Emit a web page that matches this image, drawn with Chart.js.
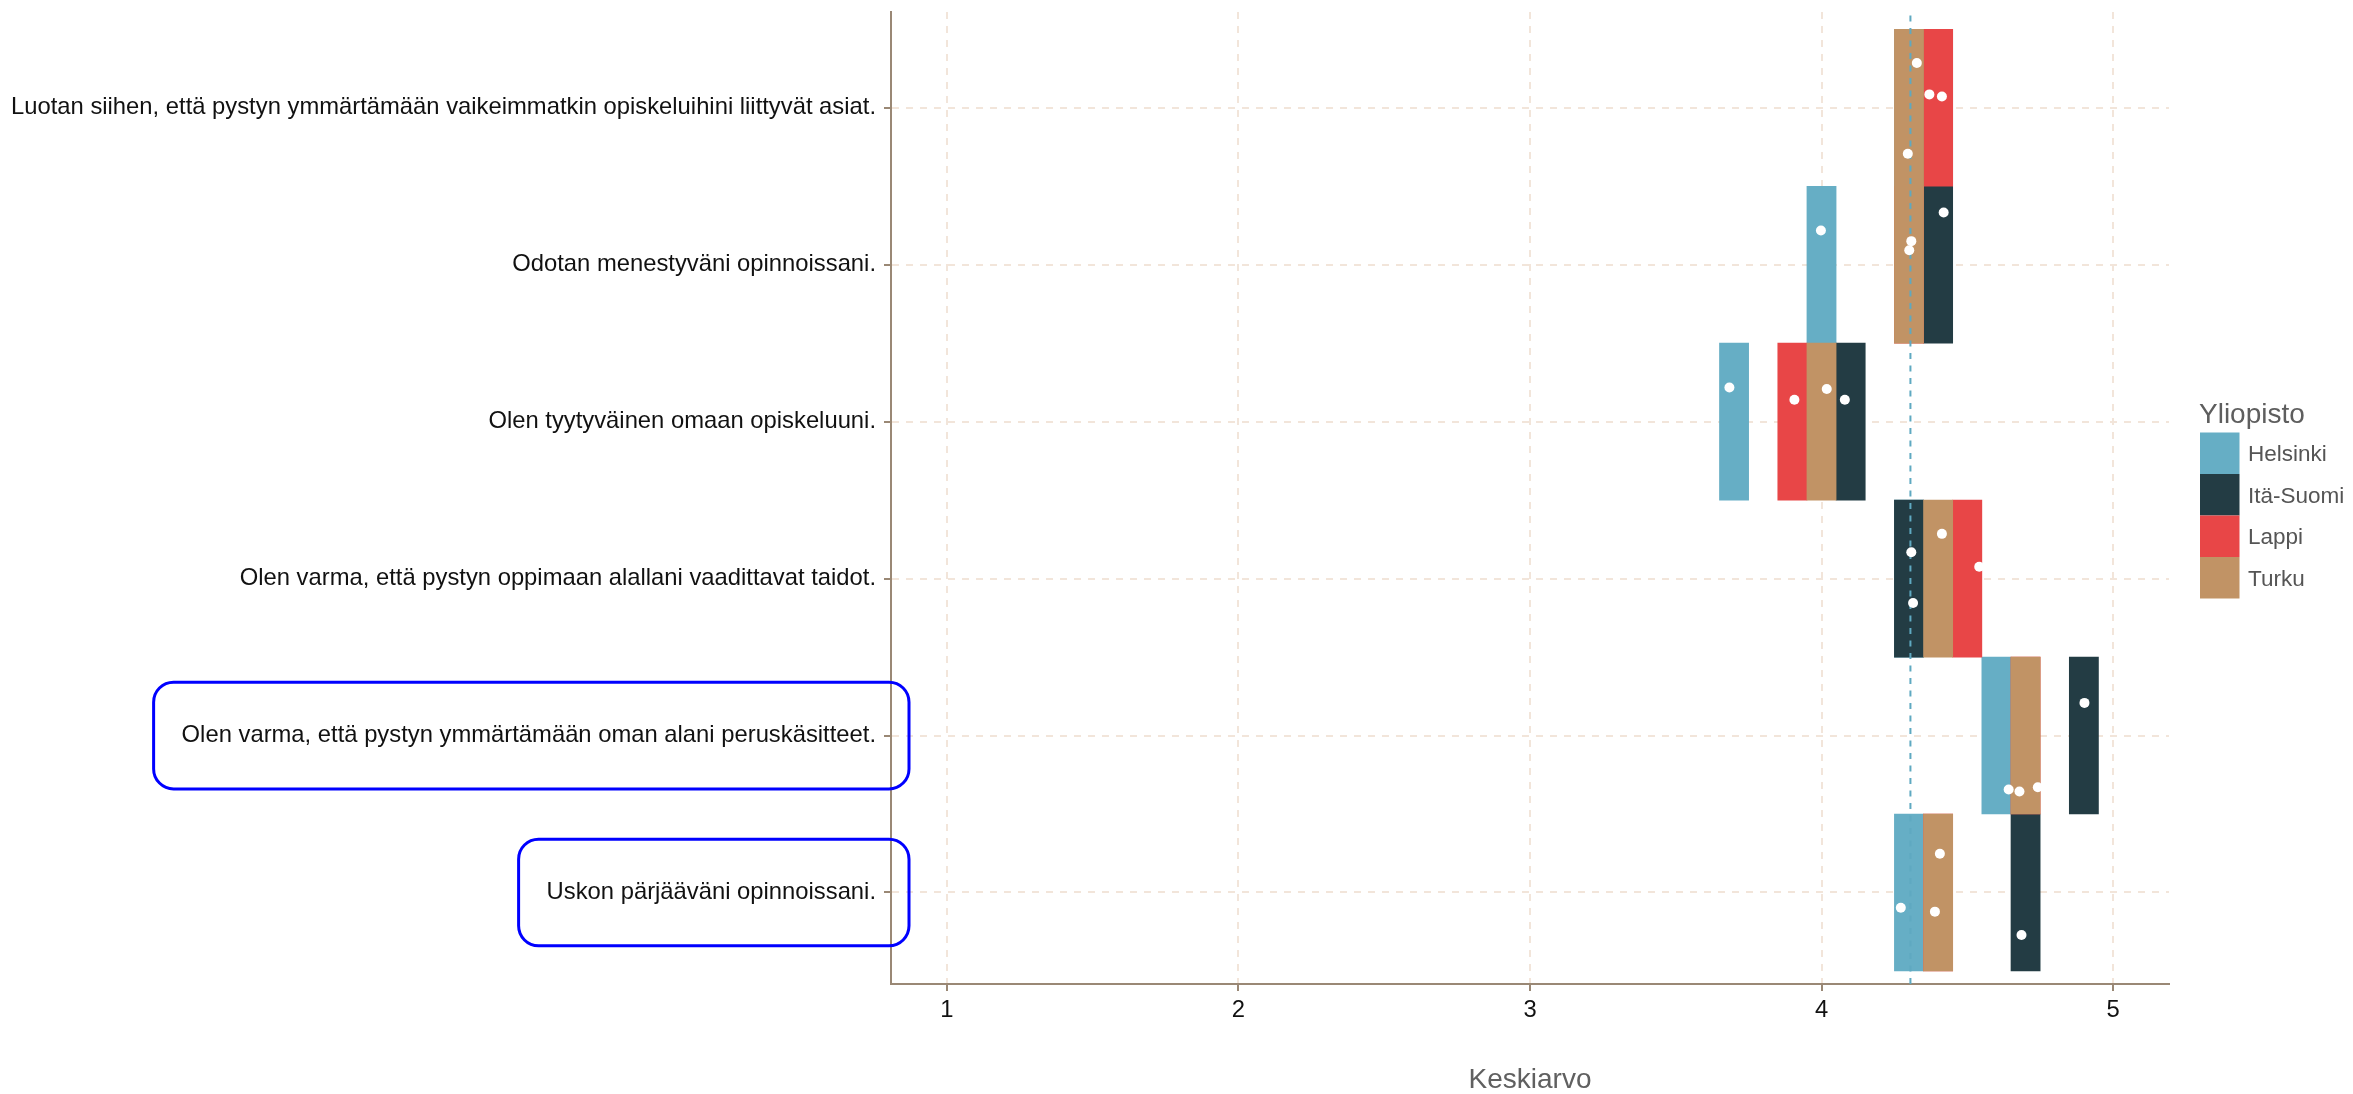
<!DOCTYPE html>
<html>
<head>
<meta charset="utf-8">
<script src="https://cdn.jsdelivr.net/npm/chart.js@4/dist/chart.umd.min.js"></script>
<style>
html,body{margin:0;padding:0;background:#ffffff;overflow:hidden}
canvas{display:block}
</style>
</head>
<body>
<canvas id="c" width="2353" height="1094"></canvas>
<script>
// ---------- data ----------
const categories = [
  "Luotan siihen, että pystyn ymmärtämään vaikeimmatkin opiskeluihini liittyvät asiat.",
  "Odotan menestyväni opinnoissani.",
  "Olen tyytyväinen omaan opiskeluuni.",
  "Olen varma, että pystyn oppimaan alallani vaadittavat taidot.",
  "Olen varma, että pystyn ymmärtämään oman alani peruskäsitteet.",
  "Uskon pärjääväni opinnoissani."
];
const universities = ["Helsinki", "Itä-Suomi", "Lappi", "Turku"];
const legendTitle = "Yliopisto";
const xTitle = "Keskiarvo";

// tile centres (rounded means), same order as categories
const tileHelsinki = [4.3, 4.0, 3.7, 4.3, 4.6, 4.3];
const tileItaSuomi = [4.4, 4.4, 4.1, 4.3, 4.9, 4.7];
const tileLappi    = [4.4, 4.3, 3.9, 4.5, 4.7, 4.4];
const tileTurku    = [4.3, 4.3, 4.0, 4.4, 4.7, 4.4];

// means (white points)
const meanHelsinki = [4.296, 3.998, 3.684, 4.314, 4.642, 4.272];
const meanItaSuomi = [4.370, 4.419, 4.080, 4.308, 4.902, 4.686];
const meanLappi    = [4.413, 4.301, 3.907, 4.541, 4.742, 4.389];
const meanTurku    = [4.327, 4.308, 4.018, 4.413, 4.679, 4.406];

// vertical jitter of the points (in category units)
const jitHelsinki = [-0.293, 0.218, 0.218, -0.155, -0.344, -0.097];
const jitItaSuomi = [0.085, 0.332, 0.140, 0.168, 0.208, -0.271];
const jitLappi    = [0.072, 0.092, 0.140, 0.076, -0.329, -0.122];
const jitTurku    = [0.285, 0.150, 0.208, 0.285, -0.357, 0.247];

const overallMean = 4.305;
const xTicks = [1, 2, 3, 4, 5];
const highlighted = [
  "Olen varma, että pystyn ymmärtämään oman alani peruskäsitteet.",
  "Uskon pärjääväni opinnoissani."
];

// ---------- styles ----------
const colors = ["#66aec5", "#233c44", "#e84647", "#c19365"];
const FONT = '"Liberation Sans", Arial, Helvetica, sans-serif';
const tileHalf = 0.05;
const X_MIN = 0.808, X_MAX = 5.192;
const Y_MIN = 0.417, Y_MAX = 6.61;
const AXIS_COLOR = "#9a8875";
const GRID_COLOR = "#f2e5da";
const TICK_LEN = 7, Y_TICK_PAD = 8;
const LABEL_SIZE = 23.8;

const tiles = [tileHelsinki, tileItaSuomi, tileLappi, tileTurku];
const means = [meanHelsinki, meanItaSuomi, meanLappi, meanTurku];
const jits = [jitHelsinki, jitItaSuomi, jitLappi, jitTurku];
const pos = i => categories.length - i;

const datasets = universities.map((u, k) => ({
  type: "bar",
  label: u,
  data: categories.map((c, i) => ({ y: pos(i), x: [tiles[k][i] - tileHalf, tiles[k][i] + tileHalf] })),
  backgroundColor: colors[k],
  borderWidth: 0,
  grouped: false,
  barPercentage: 1,
  categoryPercentage: 1,
  order: 10 - k
}));

datasets.push({
  type: "scatter",
  label: "mean",
  data: [{ x: overallMean, y: Y_MIN }, { x: overallMean, y: Y_MAX }],
  showLine: true,
  borderColor: "#5fa9c1",
  borderWidth: 2,
  borderDash: [6, 6.5],
  pointRadius: 0,
  order: 2
});

const pts = [];
universities.forEach((u, k) => {
  categories.forEach((c, i) => pts.push({ x: means[k][i], y: pos(i) + jits[k][i] }));
});
datasets.push({
  type: "scatter",
  label: "points",
  data: pts,
  showLine: false,
  pointRadius: 5,
  pointBorderWidth: 0,
  pointBackgroundColor: "#ffffff",
  order: 1
});

// ---------- plugins ----------
function roundRectPath(ctx, x, y, w, h, r) {
  ctx.beginPath();
  ctx.moveTo(x + r, y);
  ctx.lineTo(x + w - r, y);
  ctx.arcTo(x + w, y, x + w, y + r, r);
  ctx.lineTo(x + w, y + h - r);
  ctx.arcTo(x + w, y + h, x + w - r, y + h, r);
  ctx.lineTo(x + r, y + h);
  ctx.arcTo(x, y + h, x, y + h - r, r);
  ctx.lineTo(x, y + r);
  ctx.arcTo(x, y, x + r, y, r);
  ctx.closePath();
}

const highlightBoxes = {
  id: "highlightBoxes",
  afterDraw(chart) {
    const ys = chart.scales.y;
    const { ctx, chartArea } = chart;
    ctx.save();
    ctx.font = LABEL_SIZE + "px " + FONT;
    highlighted.forEach(label => {
      const i = categories.indexOf(label);
      if (i < 0) return;
      const v = pos(i);
      const cy = ys.getPixelForValue(v);
      const half = Math.abs(ys.getPixelForValue(v + 0.34) - cy);
      const textRight = ys.right - TICK_LEN - Y_TICK_PAD;
      const w = ctx.measureText(label).width;
      const left = textRight - w - 28;
      const right = chartArea.left + 18;
      roundRectPath(ctx, left, cy - half, right - left, 2 * half, 20);
      ctx.lineWidth = 3;
      ctx.strokeStyle = "#0000ff";
      ctx.stroke();
    });
    ctx.restore();
  }
};

const ggLegend = {
  id: "ggLegend",
  afterDraw(chart) {
    const { ctx, chartArea } = chart;
    const keyH = 41.5, keyW = 39.5, titleH = 35;
    const blockH = titleH + universities.length * keyH;
    const top = (chartArea.top + chartArea.bottom) / 2 - blockH / 2;
    const x0 = chartArea.right + 31;
    ctx.save();
    ctx.font = "28px " + FONT;
    ctx.fillStyle = "#5e5e5e";
    ctx.textBaseline = "alphabetic";
    ctx.textAlign = "left";
    ctx.fillText(legendTitle, x0 - 1, top + 25.5);
    universities.forEach((u, i) => {
      const y = top + titleH + i * keyH;
      ctx.fillStyle = colors[i];
      ctx.fillRect(x0, y, keyW, keyH);
      ctx.fillStyle = "#555555";
      ctx.font = "22.5px " + FONT;
      ctx.textBaseline = "middle";
      ctx.fillText(u, x0 + keyW + 8.5, y + keyH / 2 + 2);
    });
    ctx.restore();
  }
};

Chart.defaults.font.family = FONT;

new Chart(document.getElementById("c"), {
  type: "bar",
  data: { datasets },
  options: {
    indexAxis: "y",
    responsive: false,
    devicePixelRatio: 1,
    animation: false,
    events: [],
    layout: { padding: { left: 0, top: 12, right: 184, bottom: 0 } },
    plugins: { legend: { display: false }, tooltip: { enabled: false } },
    scales: {
      x: {
        type: "linear",
        min: X_MIN,
        max: X_MAX,
        beginAtZero: false,
        offset: false,
        afterFit: s => { s.height = 110; s.paddingLeft = 0; s.paddingRight = 0; },
        afterBuildTicks: s => { s.ticks = xTicks.map(v => ({ value: v })); },
        ticks: { stepSize: 1, includeBounds: false, color: "#111111", font: { size: LABEL_SIZE }, padding: 5, maxRotation: 0 },
        grid: { color: GRID_COLOR, lineWidth: 2, tickColor: AXIS_COLOR, tickLength: TICK_LEN, tickWidth: 2, tickBorderDash: [], offset: false },
        border: { display: true, color: AXIS_COLOR, width: 2, dash: [7, 7] },
        title: { display: true, text: xTitle, color: "#606060", font: { size: 28, lineHeight: 1 }, padding: { top: 0, bottom: 0 } }
      },
      y: {
        type: "linear",
        min: Y_MIN,
        max: Y_MAX,
        offset: false,
        beginAtZero: false,
        afterFit: s => { s.width = 891; s.paddingTop = 0; s.paddingBottom = 0; },
        ticks: {
          stepSize: 1,
          includeBounds: false,
          autoSkip: false,
          color: "#111111",
          font: { size: LABEL_SIZE },
          padding: Y_TICK_PAD,
          callback: v => (Number.isInteger(v) && categories[categories.length - v]) || ""
        },
        grid: { color: GRID_COLOR, lineWidth: 2, tickColor: AXIS_COLOR, tickLength: TICK_LEN, tickWidth: 2, tickBorderDash: [], offset: false },
        border: { display: true, color: AXIS_COLOR, width: 2, dash: [7, 7] }
      }
    }
  },
  plugins: [highlightBoxes, ggLegend]
});
</script>
</body>
</html>
